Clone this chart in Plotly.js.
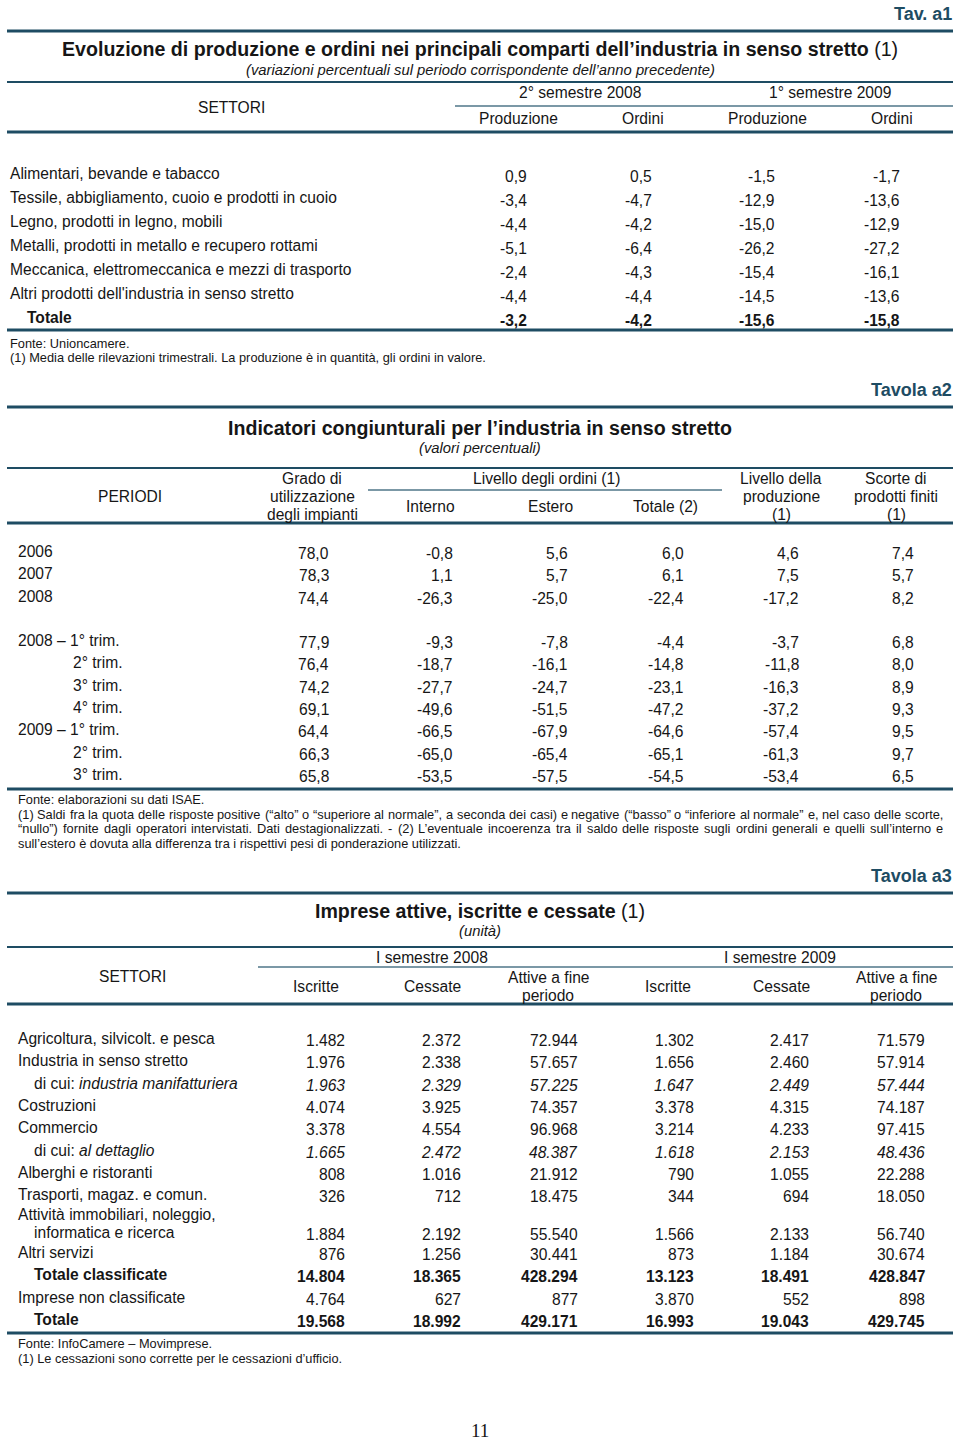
<!DOCTYPE html>
<html>
<head>
<meta charset="utf-8">
<script src="https://cdn.plot.ly/plotly-3.0.1.min.js"></script>
<style>html,body{margin:0;padding:0;background:#fff;}#chart{width:960px;height:1443px;}</style>
</head>
<body>
<div id="chart"></div>
<script>
// ---------------- DATA ----------------
// Tav. a1
const t1Sectors = ["Alimentari, bevande e tabacco","Tessile, abbigliamento, cuoio e prodotti in cuoio","Legno, prodotti in legno, mobili","Metalli, prodotti in metallo e recupero rottami","Meccanica, elettromeccanica e mezzi di trasporto","Altri prodotti dell'industria in senso stretto","Totale"];
const t1Prod2008 = [0.9,-3.4,-4.4,-5.1,-2.4,-4.4,-3.2];
const t1Ord2008  = [0.5,-4.7,-4.2,-6.4,-4.3,-4.4,-4.2];
const t1Prod2009 = [-1.5,-12.9,-15.0,-26.2,-15.4,-14.5,-15.6];
const t1Ord2009  = [-1.7,-13.6,-12.9,-27.2,-16.1,-13.6,-15.8];
const t1Groups = ["2° semestre 2008","1° semestre 2009"];
const t1Cols = ["Produzione","Ordini","Produzione","Ordini"];

// Tavola a2
const t2Periods = ["2006","2007","2008","2008 – 1° trim.","2° trim.","3° trim.","4° trim.","2009 – 1° trim.","2° trim.","3° trim."];
const t2Grado    = [78.0,78.3,74.4,77.9,76.4,74.2,69.1,64.4,66.3,65.8];
const t2Interno  = [-0.8,1.1,-26.3,-9.3,-18.7,-27.7,-49.6,-66.5,-65.0,-53.5];
const t2Estero   = [5.6,5.7,-25.0,-7.8,-16.1,-24.7,-51.5,-67.9,-65.4,-57.5];
const t2Totale   = [6.0,6.1,-22.4,-4.4,-14.8,-23.1,-47.2,-64.6,-65.1,-54.5];
const t2Produz   = [4.6,7.5,-17.2,-3.7,-11.8,-16.3,-37.2,-57.4,-61.3,-53.4];
const t2Scorte   = [7.4,5.7,8.2,6.8,8.0,8.9,9.3,9.5,9.7,6.5];

// Tavola a3
const t3Sectors = ["Agricoltura, silvicolt. e pesca","Industria in senso stretto","di cui: industria manifatturiera","Costruzioni","Commercio","di cui: al dettaglio","Alberghi e ristoranti","Trasporti, magaz. e comun.","Attività immobiliari, noleggio,|informatica e ricerca","Altri servizi","Totale classificate","Imprese non classificate","Totale"];
const t3Iscr08 = [1482,1976,1963,4074,3378,1665,808,326,1884,876,14804,4764,19568];
const t3Cess08 = [2372,2338,2329,3925,4554,2472,1016,712,2192,1256,18365,627,18992];
const t3Att08  = [72944,57657,57225,74357,96968,48387,21912,18475,55540,30441,428294,877,429171];
const t3Iscr09 = [1302,1656,1647,3378,3214,1618,790,344,1566,873,13123,3870,16993];
const t3Cess09 = [2417,2460,2449,4315,4233,2153,1055,694,2133,1184,18491,552,19043];
const t3Att09  = [71579,57914,57444,74187,97415,48436,22288,18050,56740,30674,428847,898,429745];

// ---------------- STYLE / LAYOUT ----------------
const F = "Liberation Sans, Arial, Helvetica, sans-serif";
const TXT = "#161616";
const BLUE = "#1e4c63";
const SUB = "#4f7688";
const FS = 15.6;
const FN = 12.8;
const ann = [];
const shapes = [];
function T(x, y, text, o) {
  o = o || {};
  ann.push({x:x, y:y, xref:'x', yref:'y', text:text, showarrow:false,
    xanchor:o.a || 'left', yanchor:'middle', borderpad:0,
    font:{family:o.f || F, size:o.s || FS, color:o.c || TXT}});
}
function L(x0, x1, y, w, c) {
  shapes.push({type:'line', xref:'x', yref:'y', x0:x0, x1:x1, y0:y, y1:y,
    line:{color:c || BLUE, width:w}});
}
const dec = v => v.toFixed(1).replace('.', ',');
const thou = v => String(v).replace(/\B(?=(\d{3})+(?!\d))/g, '.');
// justified footnote line: words spread between x0 and x1
const cv = document.createElement('canvas').getContext('2d');
function J(x0, x1, y, line, size) {
  cv.font = size + "px 'Liberation Sans', Arial, sans-serif";
  const words = line.split(' ');
  const widths = words.map(w => cv.measureText(w).width);
  const total = widths.reduce((a, b) => a + b, 0);
  const gap = (x1 - x0 - total) / (words.length - 1);
  let x = x0;
  words.forEach((w, i) => { T(x, y, w, {s:size}); x += widths[i] + gap; });
}

// ===== Table a1 =====
T(953, 14, "<b>Tav. a1</b>", {a:'right', s:18, c:BLUE});
L(7, 953, 31, 3);
T(480, 49, "<b>Evoluzione di produzione e ordini nei principali comparti dell’industria in senso stretto</b> (1)", {a:'center', s:19.6});
T(480, 70, "<i>(variazioni percentuali sul periodo corrispondente dell’anno precedente)</i>", {a:'center', s:14.8});
L(7, 953, 82, 2);
T(231, 107, "SETTORI", {a:'center'});
T(580, 92, t1Groups[0], {a:'center'});
T(830, 92, t1Groups[1], {a:'center'});
L(455, 953, 106, 1.5, SUB);
[518, 643, 767, 892].forEach((cx, i) => T(cx, 118, t1Cols[i], {a:'center'}));
L(7, 953, 132, 3);
const t1ColRight = [528, 653, 776, 901];
const t1Series = [t1Prod2008, t1Ord2008, t1Prod2009, t1Ord2009];
t1Sectors.forEach((s, r) => {
  const y = 173 + r * 24;
  const bold = s === "Totale";
  T(bold ? 26 : 9, y, bold ? "<b>" + s + "</b>" : s);
  t1Series.forEach((arr, c) => {
    const t = dec(arr[r]);
    T(t1ColRight[c], y + 3, bold ? "<b>" + t + "</b>" : t, {a:'right'});
  });
});
L(7, 953, 330, 3);
T(9, 343, "Fonte: Unioncamere.", {s:FN});
T(9, 357, "(1) Media delle rilevazioni trimestrali. La produzione è in quantità, gli ordini in valore.", {s:FN});

// ===== Table a2 =====
T(953, 390, "<b>Tavola a2</b>", {a:'right', s:18, c:BLUE});
L(7, 953, 407, 3);
T(480, 428, "<b>Indicatori congiunturali per l’industria in senso stretto</b>", {a:'center', s:19.6});
T(480, 448, "<i>(valori percentuali)</i>", {a:'center', s:14.8});
L(7, 953, 468, 2);
T(130, 496, "PERIODI", {a:'center'});
T(312, 478, "Grado di", {a:'center'});
T(312, 496, "utilizzazione", {a:'center'});
T(312, 514, "degli impianti", {a:'center'});
T(546, 478, "Livello degli ordini (1)", {a:'center'});
L(368, 722, 490, 1.5, SUB);
T(430, 506, "Interno", {a:'center'});
T(550, 506, "Estero", {a:'center'});
T(665, 506, "Totale (2)", {a:'center'});
T(781, 478, "Livello della", {a:'center'});
T(781, 496, "produzione", {a:'center'});
T(781, 514, "(1)", {a:'center'});
T(896, 478, "Scorte di", {a:'center'});
T(896, 496, "prodotti finiti", {a:'center'});
T(896, 514, "(1)", {a:'center'});
L(7, 953, 523, 3);
const t2RowY = [551, 573, 596, 640, 662, 685, 707, 729, 752, 774];
const t2ColRight = [330, 454, 569, 685, 800, 915];
const t2Series = [t2Grado, t2Interno, t2Estero, t2Totale, t2Produz, t2Scorte];
t2Periods.forEach((p, r) => {
  const y = t2RowY[r];
  T(/^\d° trim/.test(p) ? 72 : 17, y, p);
  t2Series.forEach((arr, c) => T(t2ColRight[c], y + 2, dec(arr[r]), {a:'right'}));
});
L(7, 953, 789, 3);
T(17, 799, "Fonte: elaborazioni su dati ISAE.", {s:FN});
J(17, 942, 814, "(1) Saldi fra la quota delle risposte positive (“alto” o “superiore al normale”, a seconda dei casi) e negative (“basso” o “inferiore al normale” e, nel caso delle scorte,", FN);
J(17, 942, 828, "“nullo”) fornite dagli operatori intervistati. Dati destagionalizzati. - (2) L’eventuale incoerenza tra il saldo delle risposte sugli ordini generali e quelli sull’interno e", FN);
T(17, 843, "sull’estero è dovuta alla differenza tra i rispettivi pesi di ponderazione utilizzati.", {s:FN});

// ===== Table a3 =====
T(953, 876, "<b>Tavola a3</b>", {a:'right', s:18, c:BLUE});
L(7, 953, 893, 3);
T(480, 911, "<b>Imprese attive, iscritte e cessate</b> (1)", {a:'center', s:19.6});
T(480, 931, "<i>(unità)</i>", {a:'center', s:14.8});
L(7, 953, 947, 2);
T(132, 976, "SETTORI", {a:'center'});
T(432, 957, "I semestre 2008", {a:'center'});
T(780, 957, "I semestre 2009", {a:'center'});
L(258, 953, 967, 1.5, SUB);
[[316, false, "Iscritte"], [432, false, "Cessate"], [548, true, "Attive a fine|periodo"],
 [668, false, "Iscritte"], [781, false, "Cessate"], [896, true, "Attive a fine|periodo"]].forEach(h => {
  if (h[1]) { const p = h[2].split('|'); T(h[0], 977, p[0], {a:'center'}); T(h[0], 995, p[1], {a:'center'}); }
  else T(h[0], 986, h[2], {a:'center'});
});
L(7, 953, 1004, 3);
const t3RowY = [1038, 1060, 1083, 1105, 1127, 1150, 1172, 1194, 1232, 1252, 1274, 1297, 1319];
const t3ColRight = [346, 462, 579, 695, 810, 926];
const t3Series = [t3Iscr08, t3Cess08, t3Att08, t3Iscr09, t3Cess09, t3Att09];
t3Sectors.forEach((s, r) => {
  const y = t3RowY[r];
  const bold = /^Totale/.test(s);
  const ital = /^di cui:/.test(s);
  if (s.indexOf('|') >= 0) {
    const p = s.split('|');
    T(17, y - 18, p[0]);
    T(33, y, p[1]);
  } else if (ital) {
    T(33, y, "di cui: <i>" + s.slice(8) + "</i>");
  } else if (bold) {
    T(33, y, "<b>" + s + "</b>");
  } else {
    T(17, y, s);
  }
  t3Series.forEach((arr, c) => {
    let t = thou(arr[r]);
    if (bold) t = "<b>" + t + "</b>";
    if (ital) t = "<i>" + t + "</i>";
    T(t3ColRight[c], y + 2, t, {a:'right'});
  });
});
L(7, 953, 1333, 3);
T(17, 1343, "Fonte: InfoCamere – Movimprese.", {s:FN});
T(17, 1358, "(1) Le cessazioni sono corrette per le cessazioni d’ufficio.", {s:FN});

T(480, 1430, "11", {a:'center', s:19, f:"Liberation Serif, Times New Roman, serif"});

const layout = {
  width: 960, height: 1443,
  margin: {l:0, r:0, t:0, b:0, pad:0},
  paper_bgcolor: '#ffffff', plot_bgcolor: '#ffffff',
  showlegend: false,
  xaxis: {range:[0, 960], visible:false, fixedrange:true},
  yaxis: {range:[1443, 0], visible:false, fixedrange:true},
  annotations: ann,
  shapes: shapes
};
Plotly.newPlot('chart', [], layout, {displayModeBar:false, staticPlot:true});
</script>
</body>
</html>
